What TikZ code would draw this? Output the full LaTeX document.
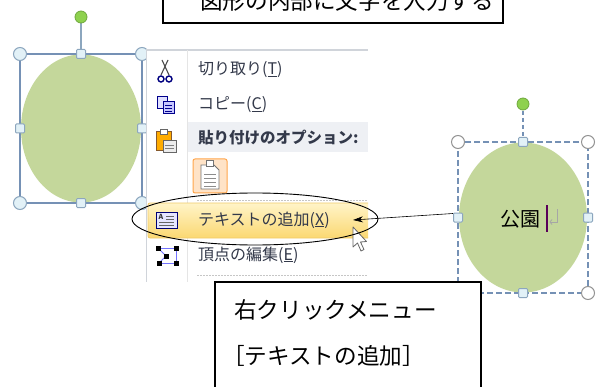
\documentclass[tikz,border=0pt]{standalone}
\usepackage{fontspec}
\setmainfont{Noto Sans CJK JP}
\usetikzlibrary{arrows.meta}
\definecolor{shapegreen}{HTML}{C4D79B}
\definecolor{selblue}{HTML}{7591B5}
\definecolor{handleb}{HTML}{8CA6BE}
\definecolor{handlef}{HTML}{E2F1F7}
\definecolor{rotgreen}{HTML}{8ED14E}
\definecolor{rotgreenb}{HTML}{6FA83E}
\definecolor{menutext}{HTML}{33394A}
\definecolor{menuline}{HTML}{D0D4DA}
\definecolor{bandgray}{HTML}{EEF0F4}
\definecolor{hltop}{HTML}{FFF4C8}
\definecolor{hlbot}{HTML}{FBD872}
\definecolor{hlborder}{HTML}{F0CA6A}
\tikzset{
  sqh/.style={draw=handleb, fill=handlef, minimum size=9pt, inner sep=0pt, line width=1pt, rounded corners=1pt},
  circh/.style={circle, draw=handleb, fill=handlef, minimum size=13pt, inner sep=0pt, line width=1pt},
  circw/.style={circle, draw=gray!85, fill=white, minimum size=13pt, inner sep=0pt, line width=1pt},
  roth/.style={circle, draw=rotgreenb, fill=rotgreen, minimum size=12pt, inner sep=0pt, line width=0.8pt},
  menuitem/.style={anchor=west, inner sep=0pt, text=menutext, font=\fontsize{16}{19}\selectfont},
  bigtext/.style={anchor=base west, inner sep=0pt, font=\fontsize{22.6}{26}\selectfont},
  sep/.style={draw=gray!45, line width=0.8pt, dash pattern=on 1.5pt off 1.5pt},
}
\begin{document}
\begin{tikzpicture}[x=1pt,y=-1pt]
\useasboundingbox (0,0) rectangle (601,387);
\clip (0,0) rectangle (601,387);
\fill[white] (0,0) rectangle (601,387);

% top box
\draw[black, line width=1.1pt] (163,-5) rectangle (503,23);
\node[bigtext] (toptext) at (200,9.5) {図形の内部に文字を入力する};

% left shape
\fill[shapegreen] (81,128.5) ellipse [x radius=60, y radius=74];
\draw[selblue, line width=1.3pt] (20,54) rectangle (142,203);
\draw[handleb, line width=2pt] (81,23) -- (81,50);
\node[roth] (lrot) at (81,17) {};
\node[circh] (lnw) at (20,54) {};
\node[circh] (lne) at (142,54) {};
\node[circh] (lsw) at (20,203) {};
\node[circh] (lse) at (142,203) {};
\node[sqh] (ln) at (81,54) {};
\node[sqh] (ls) at (81,203) {};
\node[sqh] (lw) at (20,128.5) {};
\node[sqh] (le) at (142,128.5) {};

% menu
\begin{scope}
\clip (145.5,49) rectangle (368,282);
\fill[white] (145.5,49) rectangle (368,282);
\draw[menuline, line width=1.2pt] (145.5,50) -- (368,50);
\draw[menuline, line width=1pt] (146.5,50) -- (146.5,282);
\draw[gray!20, line width=0.8pt] (187,50) -- (187,282);
\fill[bandgray] (188,122) rectangle (368,152);
\draw[sep] (197,200) -- (368,200);
\draw[sep] (197,275) -- (368,275);
\draw[hlborder, line width=0.8pt, rounded corners=2pt, top color=hltop, bottom color=hlbot] (148,203) rectangle (372,238);

% scissors icon
\draw[black!70, line width=1.1pt] (161,75) -- (168,60);
\draw[black!70, line width=1.1pt] (169,75) -- (162,60);
\draw[blue!50!black, line width=1.4pt] (161,79) circle (3);
\draw[blue!50!black, line width=1.4pt] (169,79) circle (3);
% copy icon
\draw[blue!55!black, fill=blue!12, line width=0.8pt] (157,96) rectangle (167,108);
\draw[blue!55!black, fill=blue!22, line width=0.8pt] (163,101) rectangle (174,113);
\draw[blue!55!black, line width=0.6pt] (165,105) -- (172,105) (165,108) -- (172,108) (165,111) -- (172,111);
% paste icon
\draw[brown!70!black, fill=orange!65!yellow, line width=0.8pt] (156,131) rectangle (171,150);
\draw[black!60, fill=white, line width=0.6pt] (160,129) rectangle (167,134);
\draw[black!60, fill=gray!15, line width=0.8pt] (163,140) rectangle (176,152);
\draw[black!50, line width=0.6pt] (165,145) -- (174,145) (165,148) -- (174,148);
% paste option icon
\draw[orange!70, fill=orange!22, line width=1pt, rounded corners=2pt] (193,159) rectangle (227,193);
\draw[black!55, fill=white, line width=0.8pt] (201,165) -- (214,165) -- (219,170) -- (219,189) -- (201,189) -- cycle;
\draw[black!55, fill=white, line width=0.6pt] (206,160) rectangle (213,166);
\draw[black!45, line width=0.6pt] (204,174) -- (216,174) (204,178) -- (216,178) (204,182) -- (216,182) (204,186) -- (216,186);
% text add icon
\draw[blue!45!black, fill=blue!10, line width=0.9pt] (156,212) rectangle (177,228);
\node[inner sep=0pt, font=\fontsize{7}{8}\selectfont\bfseries, text=black!80] (aicon) at (161,217) {A};
\draw[black!60, line width=0.6pt] (166,216) -- (174,216) (166,219) -- (174,219) (159,222) -- (174,222) (159,225) -- (174,225);
% vertex edit icon
\draw[blue!55, line width=0.9pt] (158,248) -- (176,248) -- (176,263) -- (159,263);
\draw[blue!55, line width=0.9pt] (158,248) -- (166,256) -- (159,263);
\fill[black] (155.5,245.5) rectangle (160.5,250.5);
\fill[black] (173.5,245.5) rectangle (178.5,250.5);
\fill[black] (163.5,253.5) rectangle (168.5,258.5);
\fill[black] (156.5,260.5) rectangle (161.5,265.5);
\fill[black] (173.5,260.5) rectangle (178.5,265.5);

% menu texts
\node[menuitem] (m1) at (198,70) {切り取り(\underline{T})};
\node[menuitem] (m2) at (198,105) {コピー(\underline{C})};
\node[menuitem, font=\fontsize{15.5}{18}\selectfont\bfseries] (m3) at (198,138) {貼り付けのオプション:};
\node[menuitem] (m4) at (198,220) {テキストの追加(\underline{X})};
\node[menuitem] (m5) at (198,255) {頂点の編集(\underline{E})};

% mouse cursor
\draw[black!60, fill=white, line width=0.8pt, line join=round] (353,227) -- (353,247) -- (357.5,243) -- (361,251) -- (364,249.5) -- (360.5,242) -- (366.5,241.5) -- cycle;
\end{scope}

% black ellipse
\draw[black, line width=0.9pt] (255,219) ellipse [x radius=123, y radius=26];

% right shape
\fill[shapegreen] (523,217.5) ellipse [x radius=64, y radius=75];
\draw[selblue, line width=1.3pt, dash pattern=on 6pt off 3pt] (458,142) rectangle (588,293);
\draw[selblue, line width=1.3pt, dash pattern=on 4pt off 3pt] (523,111) -- (523,142);
\node[roth] (rrot) at (523,104) {};
\node[circw] (rnw) at (458,142) {};
\node[circw] (rne) at (588,142) {};
\node[circw] (rsw) at (458,293) {};
\node[circw] (rse) at (588,293) {};
\node[sqh] (rn) at (523,142) {};
\node[sqh] (rs) at (523,293) {};
\node[sqh] (rw) at (458,217.5) {};
\node[sqh] (re) at (588,217.5) {};
\node[anchor=base west, inner sep=0pt, font=\fontsize{20}{24}\selectfont] (park) at (500,226) {公園};
\draw[violet!70!black, line width=2pt] (547,205) -- (547,232);
\draw[gray!70, line width=0.8pt] (557,209) -- (557,222) -- (550,222);
\draw[gray!70, line width=0.8pt] (552,219.5) -- (550,222) -- (552,224.5);

% arrow
\coordinate (tipc) at (353,220);
\draw[black, line width=0.6pt, -{Stealth[length=10pt,width=6pt]}] (rw.west) ++(0,-4) -- (tipc);

% bottom box
\draw[black, fill=white, line width=1.1pt] (215,282) rectangle (481,395);
\node[bigtext] (b1) at (234,318.5) {右クリックメニュー};
\node[bigtext] (b2) at (222,364.5) {［テキストの追加］};
\end{tikzpicture}
\end{document}
